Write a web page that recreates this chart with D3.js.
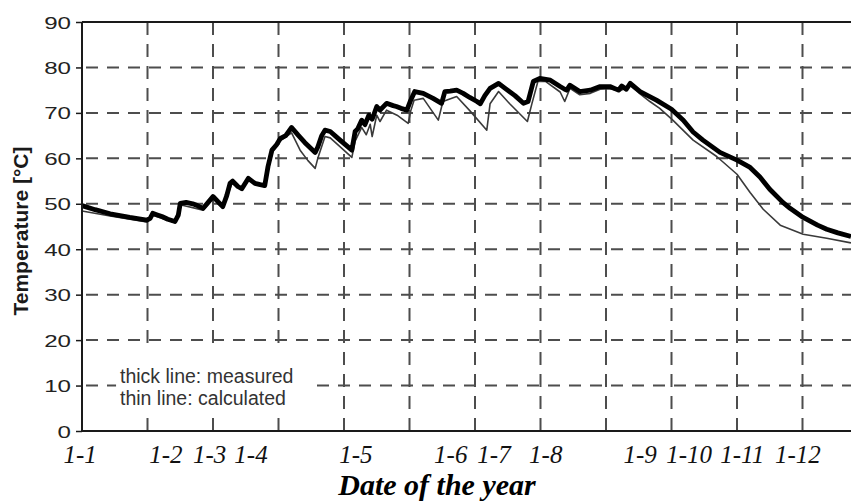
<!DOCTYPE html>
<html>
<head>
<meta charset="utf-8">
<script src="https://cdn.jsdelivr.net/npm/d3@7"></script>
<style>
  html, body { margin: 0; padding: 0; background: #fff; }
  svg { display: block; }
</style>
</head>
<body>
<svg id="chart" width="851" height="503"></svg>
<script>
// Elapsed time (grid units) and temperatures, measured series (thick line)
const measuredTime = [0.00, 0.20, 0.43, 0.73, 0.99, 1.04, 1.08, 1.14, 1.22, 1.31, 1.42, 1.47, 1.50, 1.59, 1.69, 1.76, 1.85, 1.92, 2.00, 2.08, 2.15, 2.21, 2.26, 2.30, 2.38, 2.44, 2.54, 2.64, 2.72, 2.79, 2.84, 2.90, 2.97, 3.03, 3.11, 3.20, 3.30, 3.40, 3.56, 3.60, 3.66, 3.71, 3.79, 3.94, 4.12, 4.17, 4.21, 4.27, 4.32, 4.38, 4.43, 4.50, 4.55, 4.65, 4.75, 4.80, 4.87, 4.96, 5.01, 5.08, 5.21, 5.36, 5.49, 5.54, 5.62, 5.72, 5.82, 5.92, 6.03, 6.08, 6.15, 6.23, 6.36, 6.46, 6.61, 6.74, 6.81, 6.89, 6.99, 7.15, 7.30, 7.37, 7.40, 7.45, 7.60, 7.76, 7.91, 8.06, 8.19, 8.24, 8.31, 8.37, 8.52, 8.77, 9.00, 9.18, 9.33, 9.48, 9.74, 10.00, 10.20, 10.35, 10.50, 10.70, 10.81, 11.01, 11.23, 11.37, 11.54, 11.74];
const measuredTemp = [49.6, 48.7, 47.8, 47.0, 46.4, 46.8, 47.9, 47.6, 47.2, 46.6, 46.1, 47.5, 50.1, 50.3, 50.0, 49.6, 49.0, 50.2, 51.6, 50.4, 49.4, 51.8, 54.5, 55.0, 53.8, 53.3, 55.6, 54.5, 54.2, 54.0, 58.2, 61.8, 63.0, 64.4, 65.0, 66.8, 65.1, 63.5, 61.3, 62.5, 65.0, 66.2, 65.9, 64.0, 61.8, 65.9, 66.5, 68.4, 67.4, 69.5, 68.6, 71.4, 70.6, 72.1, 71.6, 71.4, 71.0, 70.6, 72.5, 74.7, 74.3, 73.2, 72.1, 74.7, 74.8, 75.0, 74.3, 73.4, 72.5, 72.0, 73.8, 75.4, 76.5, 75.4, 73.8, 72.1, 72.5, 76.9, 77.6, 77.2, 75.8, 75.2, 75.0, 76.1, 74.7, 75.0, 75.8, 75.8, 75.0, 75.9, 75.2, 76.5, 74.7, 72.8, 70.8, 68.4, 65.8, 64.0, 61.3, 59.6, 58.0, 55.9, 53.2, 50.3, 49.0, 47.0, 45.3, 44.4, 43.6, 42.8];

// Calculated series (thin line)
const calculatedTime = [0.00, 0.43, 0.99, 1.08, 1.42, 1.50, 1.85, 2.00, 2.15, 2.29, 2.44, 2.54, 2.79, 2.85, 2.90, 3.02, 3.20, 3.33, 3.45, 3.56, 3.60, 3.71, 3.79, 4.12, 4.17, 4.27, 4.34, 4.40, 4.43, 4.50, 4.55, 4.65, 4.81, 4.98, 5.02, 5.07, 5.21, 5.44, 5.51, 5.72, 5.92, 6.18, 6.23, 6.36, 6.53, 6.80, 6.87, 6.96, 7.07, 7.30, 7.37, 7.45, 7.60, 7.76, 7.91, 8.06, 8.21, 8.37, 8.52, 8.67, 8.82, 9.02, 9.33, 9.69, 10.00, 10.20, 10.40, 10.66, 11.01, 11.37, 11.74];
const calculatedTemp = [48.4, 47.3, 46.0, 47.5, 45.8, 49.8, 48.6, 51.2, 49.0, 54.5, 53.0, 55.2, 53.7, 57.8, 61.3, 63.8, 65.6, 61.8, 59.5, 57.8, 60.0, 64.8, 64.5, 60.2, 63.8, 66.8, 65.2, 67.5, 64.8, 69.5, 68.1, 70.6, 69.5, 67.7, 70.5, 72.8, 73.2, 68.4, 72.5, 73.6, 70.5, 66.2, 72.0, 74.7, 72.0, 68.1, 72.1, 76.9, 77.0, 74.6, 72.5, 75.4, 74.0, 74.3, 75.2, 75.3, 74.8, 76.0, 74.2, 72.5, 71.0, 68.4, 64.0, 60.4, 56.5, 52.5, 48.8, 45.3, 43.3, 42.4, 41.4];

// Date labels along the time axis and where they sit
const dateLabels = ["1-1", "1-2", "1-3", "1-4", "1-5", "1-6", "1-7", "1-8", "1-9", "1-10", "1-11", "1-12"];
const dateLabelTime = [-0.03, 1.28, 1.95, 2.58, 4.18, 5.63, 6.29, 7.08, 8.52, 9.27, 10.08, 10.93];

const tempTicks = [0, 10, 20, 30, 40, 50, 60, 70, 80, 90];
const timeGrid = [1, 2, 3, 4, 5, 6, 7, 8, 9, 10, 11];

const legendLines = ["thick line: measured", "thin line: calculated"];

const W = 851, H = 503;
const margin = { left: 82, top: 22, right: 0, bottom: 72 };
const innerW = W - margin.left - margin.right;
const innerH = H - margin.top - margin.bottom;

const svg = d3.select("#chart");
const g = svg.append("g").attr("transform", `translate(${margin.left},${margin.top})`);

const x = d3.scaleLinear().domain([0, innerW / 65.5]).range([0, innerW]);
const y = d3.scaleLinear().domain([0, 90]).range([innerH, 0]);

// Dashed grid
const gridColor = "#4d4d4d";
g.append("g").selectAll("line.h").data(tempTicks.filter(d => d > 0 && d < 90)).join("line")
  .attr("x1", 0).attr("x2", innerW)
  .attr("y1", d => y(d)).attr("y2", d => y(d))
  .attr("stroke", gridColor).attr("stroke-width", 2)
  .attr("stroke-dasharray", "12,9")
  .attr("stroke-dashoffset", -4);
g.append("g").selectAll("line.v").data(timeGrid).join("line")
  .attr("x1", d => x(d)).attr("x2", d => x(d))
  .attr("y1", 0).attr("y2", innerH)
  .attr("stroke", gridColor).attr("stroke-width", 2)
  .attr("stroke-dasharray", "13,9");

// White panel behind the legend text
g.append("rect")
  .attr("x", x(0.52)).attr("y", y(17.8))
  .attr("width", x(3.5) - x(0.52)).attr("height", y(2.9) - y(17.8))
  .attr("fill", "#fff");

// Series lines
const measured = measuredTime.map((t, i) => [t, measuredTemp[i]]);
const calculated = calculatedTime.map((t, i) => [t, calculatedTemp[i]]);
const line = d3.line().x(d => x(d[0])).y(d => y(d[1]));

g.append("path").datum(calculated)
  .attr("d", line).attr("fill", "none")
  .attr("stroke", "#3a3a3a").attr("stroke-width", 1.6)
  .attr("stroke-linejoin", "round");
g.append("path").datum(measured)
  .attr("d", line).attr("fill", "none")
  .attr("stroke", "#000").attr("stroke-width", 4.8)
  .attr("stroke-linejoin", "round");

// Frame: left axis, top and bottom rules
const axisColor = "#1a1a1a";
g.append("line").attr("x1", 0).attr("x2", 0).attr("y1", 0).attr("y2", innerH)
  .attr("stroke", axisColor).attr("stroke-width", 2);
g.append("line").attr("x1", 0).attr("x2", innerW).attr("y1", 0).attr("y2", 0)
  .attr("stroke", axisColor).attr("stroke-width", 2);
g.append("line").attr("x1", 0).attr("x2", innerW).attr("y1", innerH).attr("y2", innerH)
  .attr("stroke", axisColor).attr("stroke-width", 2.2);

// Temperature axis ticks and labels
const yAxis = d3.axisLeft(y).tickValues(tempTicks).tickSize(6).tickPadding(0).tickFormat(d3.format("d"));
const yAx = g.append("g").call(yAxis);
yAx.select(".domain").remove();
yAx.selectAll(".tick line").attr("stroke", axisColor).attr("stroke-width", 1.5);
yAx.selectAll(".tick text")
  .attr("x", null).attr("dy", null)
  .attr("fill", "#222")
  .style("font-family", "'Liberation Sans', Arial, sans-serif")
  .style("font-size", "17px")
  .attr("text-anchor", "end")
  .attr("dominant-baseline", "central")
  .attr("transform", "translate(-11,0) scale(1.42,1)");

// Date labels
g.append("g").selectAll("text").data(dateLabels).join("text")
  .attr("x", (d, i) => x(dateLabelTime[i]))
  .attr("y", innerH + 32)
  .attr("text-anchor", "middle")
  .attr("fill", "#111")
  .style("font-family", "'Liberation Serif', 'Times New Roman', serif")
  .style("font-style", "italic")
  .style("font-size", "25px")
  .text(d => d);

// Axis titles
svg.append("text")
  .attr("x", 437).attr("y", 495)
  .attr("text-anchor", "middle")
  .attr("fill", "#000")
  .style("font-family", "'Liberation Serif', 'Times New Roman', serif")
  .style("font-style", "italic").style("font-weight", "bold")
  .style("font-size", "30px")
  .text("Date of the year");

svg.append("text")
  .attr("transform", "translate(28,231) rotate(-90)")
  .attr("text-anchor", "middle")
  .attr("fill", "#1a1a1a")
  .style("font-family", "'Liberation Sans', Arial, sans-serif")
  .style("font-weight", "bold")
  .style("font-size", "21px")
  .text("Temperature [°C]");

// Legend text
svg.append("g").selectAll("text").data(legendLines).join("text")
  .attr("x", 120).attr("y", (d, i) => 383 + i * 22)
  .attr("fill", "#333")
  .style("font-family", "'Liberation Sans', Arial, sans-serif")
  .style("font-size", "19.5px")
  .text(d => d);
</script>
</body>
</html>
